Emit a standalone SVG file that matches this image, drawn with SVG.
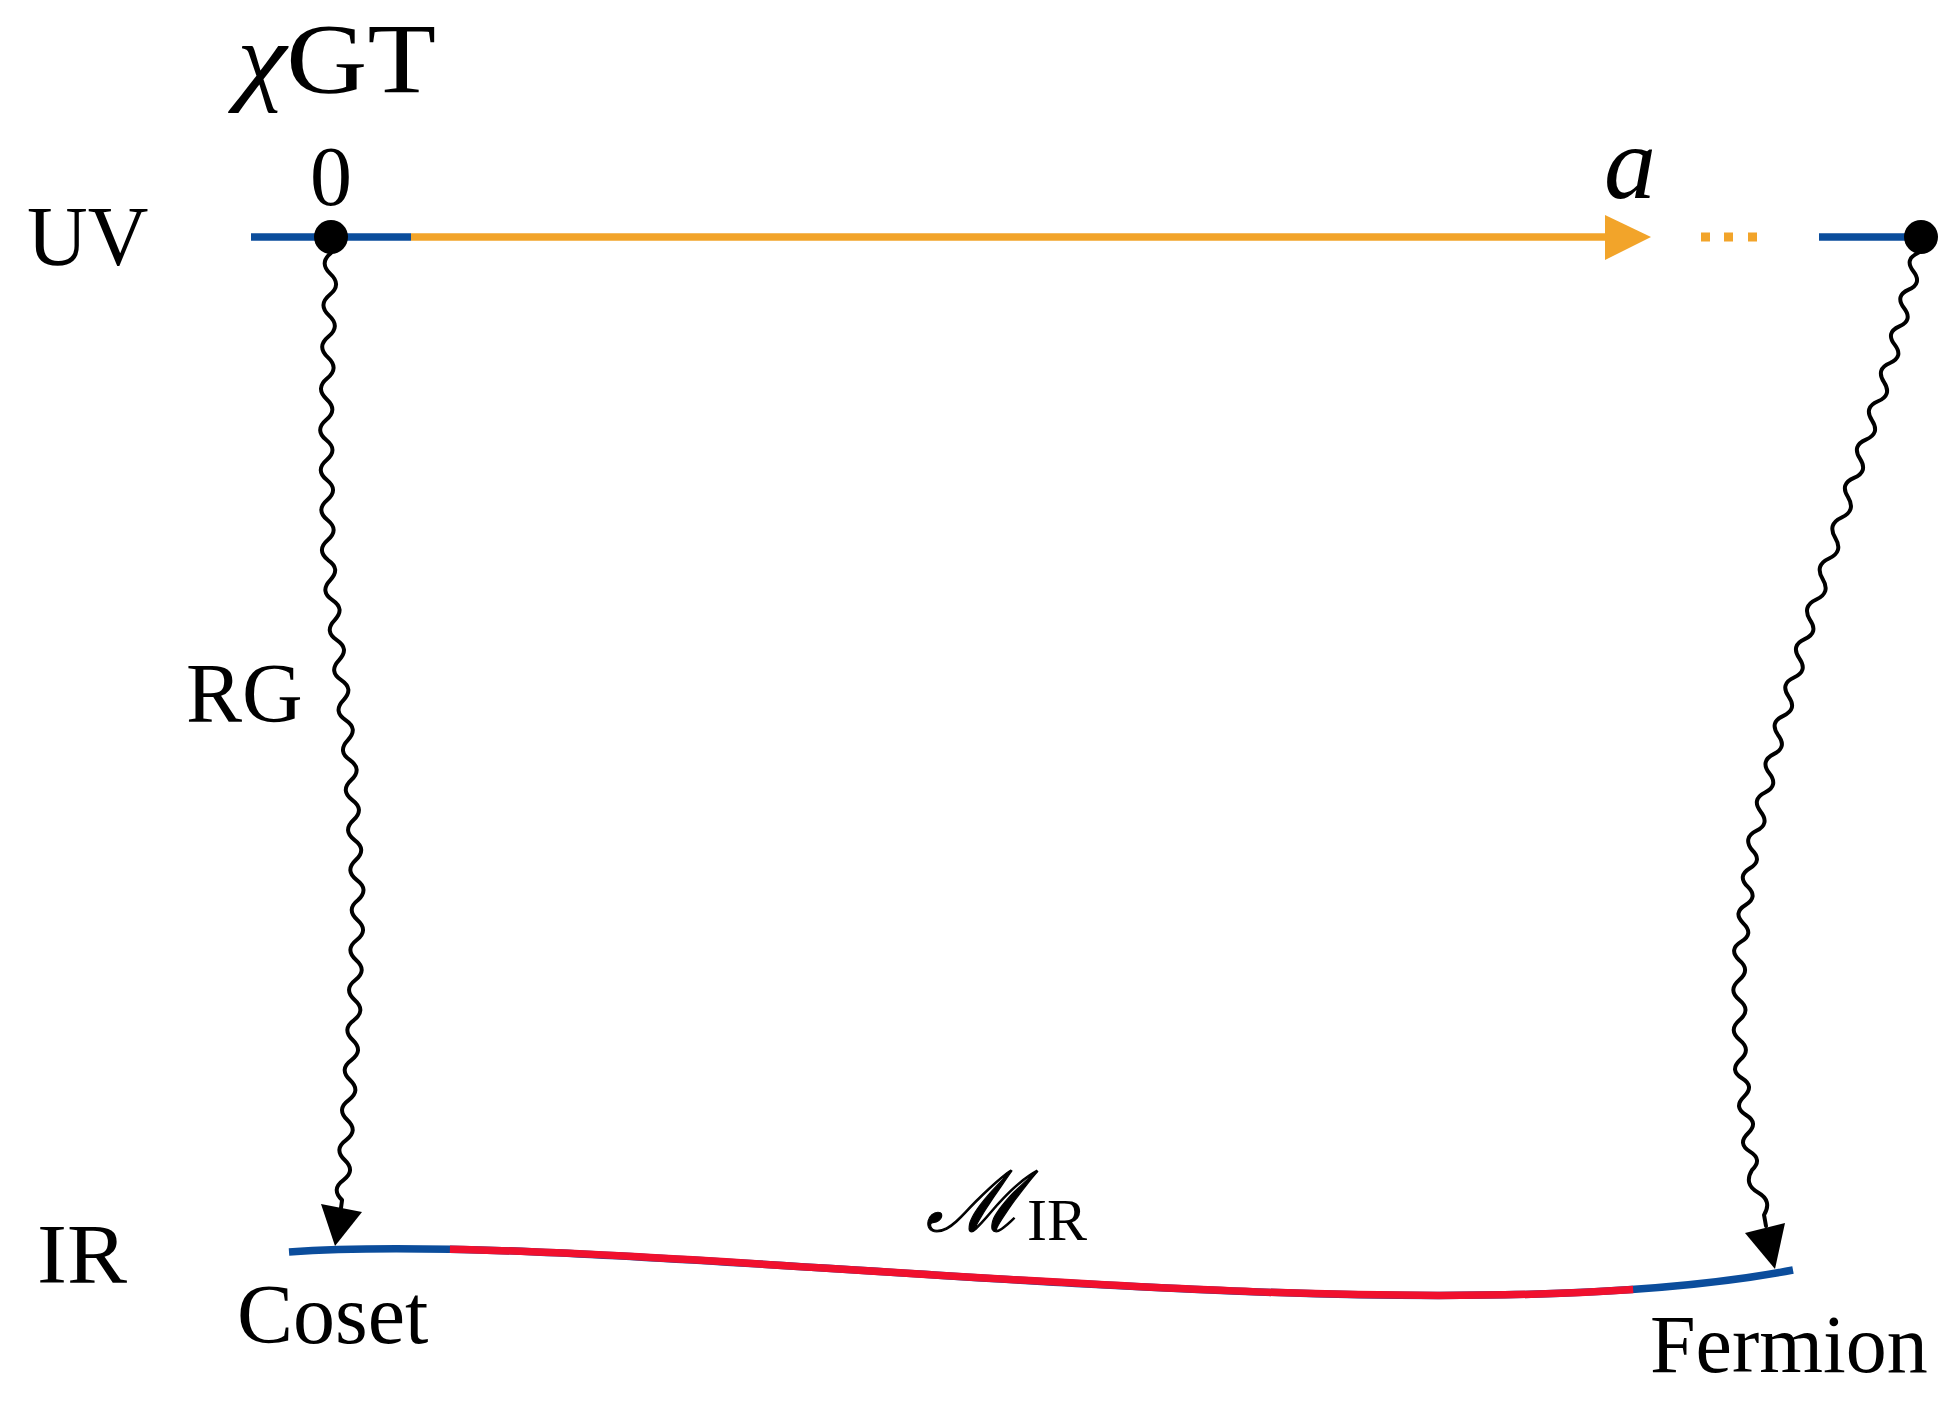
<svg xmlns="http://www.w3.org/2000/svg" width="1952" height="1401" viewBox="0 0 1952 1401">
<style>
text{font-family:"Liberation Serif","Times New Roman",serif;fill:#000}
.lbl{font-size:84px}
.blue{stroke:#0B4D9C;stroke-width:7.5;fill:none}
.orange{stroke:#F2A42A;stroke-width:7.5;fill:none}
.wave{stroke:#000;stroke-width:4;fill:none;stroke-linecap:round;stroke-linejoin:round}
.head{fill:#000}
</style>
<rect width="1952" height="1401" fill="#fff"/>
<g id="title"><text x="237" y="92" font-size="100" textLength="199" lengthAdjust="spacingAndGlyphs"><tspan font-style="italic">χ</tspan>GT</text></g>
<g id="label-uv"><text class="lbl" x="27" y="265">UV</text></g>
<g id="label-ir"><text class="lbl" x="37" y="1283" textLength="90" lengthAdjust="spacingAndGlyphs">IR</text></g>
<g id="label-rg"><text class="lbl" x="186" y="722">RG</text></g>
<g id="uv-axis">
<line class="blue" x1="251" y1="237" x2="411" y2="237"/>
<line class="orange" x1="411" y1="237" x2="1608" y2="237"/>
<polygon points="1605,215 1651,237 1605,260" fill="#F2A42A"/>
<rect x="1701" y="232.5" width="9" height="9" fill="#F2A42A"/>
<rect x="1724" y="232.5" width="9" height="9" fill="#F2A42A"/>
<rect x="1748" y="232.5" width="9" height="9" fill="#F2A42A"/>
<line class="blue" x1="1819" y1="237" x2="1921" y2="237"/>
<text x="1604" y="198" font-size="104" font-style="italic">a</text>
</g>
<g id="node-0">
<circle cx="331" cy="237" r="17"/>
<text class="lbl" x="331" y="205" text-anchor="middle">0</text>
</g>
<g id="node-end"><circle cx="1921" cy="237" r="17"/></g>
<g id="ir-curve">
<path class="blue" d="M289,1252 C620,1228 1400,1345 1793,1270"/>
<path d="M289,1252 C620,1228 1400,1345 1793,1270" pathLength="1000" stroke="#F0102E" stroke-width="7.5" fill="none" stroke-dasharray="0 107 786 2000"/>
<text x="926" y="1231" font-family="DejaVu Serif,serif" font-size="84" font-style="italic" stroke="#000" stroke-width="1.2">ℳ<tspan font-family="Liberation Serif,serif" font-style="normal" stroke="none" font-size="60" dy="9" dx="4">IR</tspan></text>
</g>
<g id="node-coset"><text class="lbl" x="237" y="1343">Coset</text></g>
<g id="node-fermion"><text x="1650" y="1372" font-size="82">Fermion</text></g>
<g id="connectors">
<path class="wave" d="M331,253 q-12.31,10.08 -0.62,20.88 t-0.62,20.88 t-0.62,20.88 t-0.62,20.88 t-0.62,20.88 t-0.62,20.88 t-0.62,20.88 t-0.62,20.88 q-11.86,10.17 0.29,20 t0.29,20 t0.29,20 t0.29,20 t0.29,20 t0.29,20 t0.29,20 q13.03,8.69 2.2,20 t2.2,20 t2.2,20 t2.2,20 t2.2,20 t2.2,20 t2.2,20 t2.2,20 t2.2,20 t2.2,20 q12.55,9.32 1.14,20 t1.14,20 t1.14,20 t1.14,20 t1.14,20 t1.14,20 t1.14,20 q-12.34,9.6 -0.67,20 t-0.67,20 t-0.67,20 t-0.67,20 t-0.67,20 t-0.67,20 q-12.64,9.2 -1.33,20 t-1.33,20 t-1.33,20 t-1.33,20 t-1.33,20 t-1.33,20 t-1.33,20 t-1.33,20 t-1.33,20 L341,1208"/>
<polygon class="head" points="335,1246 321,1204 362,1212"/>
<path class="wave" d="M1918,253 q-13.97,6.21 -4.67,18.33 t-4.67,18.33 t-4.67,18.33 t-4.67,18.33 t-4.67,18.33 t-4.67,18.33 q-14.45,5.98 -6,19.14 t-6,19.14 t-6,19.14 t-6,19.14 t-6,19.14 t-6,19.14 t-6,19.14 q8.3,13.79 -6.33,20.5 t-6.33,20.5 t-6.33,20.5 t-6.33,20.5 t-6.33,20.5 t-6.33,20.5 q8.9,12.8 -5.33,19.17 t-5.33,19.17 t-5.33,19.17 t-5.33,19.17 t-5.33,19.17 t-5.33,19.17 q9.54,12.23 -4.33,19.17 t-4.33,19.17 t-4.33,19.17 t-4.33,19.17 t-4.33,19.17 t-4.33,19.17 q10.83,10.57 -2.17,18.33 t-2.17,18.33 t-2.17,18.33 t-2.17,18.33 t-2.17,18.33 t-2.17,18.33 q12.1,9.88 0.2,20 t0.2,20 t0.2,20 t0.2,20 t0.2,20 q-10.93,10.47 2,18.33 t2,18.33 t2,18.33 t2,18.33 t2,18.33 t2,18.33 q-8.59,14.34 6,22.5 t6,22.5 L1766,1226"/>
<polygon class="head" points="1775,1269 1745,1233 1785,1223"/>
</g>
</svg>
